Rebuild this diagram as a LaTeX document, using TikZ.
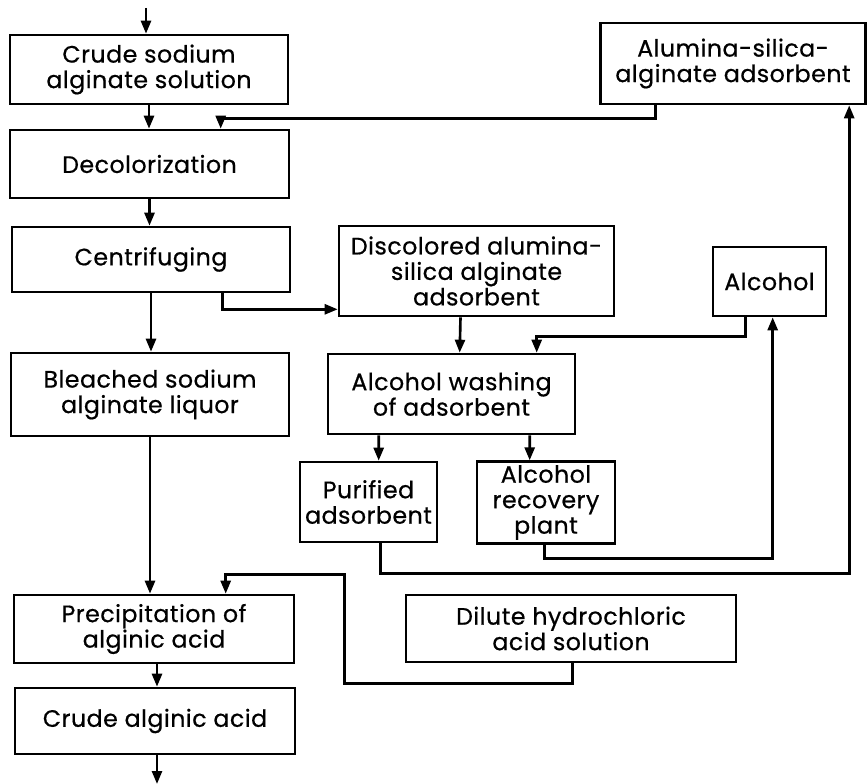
\documentclass[tikz,border=0pt]{standalone}
\usepackage{fontspec}
\setmainfont{Poppins}[FakeBold=0.6, LetterSpace=2]
\usetikzlibrary{arrows.meta,positioning,calc}

\begin{document}
\begin{tikzpicture}[x=0.02cm, y=-0.02cm,
  proc/.style={draw, line width=1.5pt, inner sep=2pt, align=center, font=\fontsize{13.5}{14.5}\selectfont},
  flow/.style={-{Triangle[length=2.6mm, width=2mm]}, line width=1.5pt},
  link/.style={line width=1.5pt}]
\useasboundingbox (0,0) rectangle (867,784);
% main line, left column
\node[proc, minimum width=5.56cm, minimum height=1.38cm] (crude) at (149,69.5) {Crude sodium\\alginate solution};
\node[proc, minimum width=5.58cm, minimum height=1.36cm] (decol) at (149.5,164) {Decolorization};
\node[proc, minimum width=5.56cm, minimum height=1.30cm] (centr) at (151,259.5) {Centrifuging};
\node[proc, minimum width=5.56cm, minimum height=1.66cm] (bleach) at (150,394.5) {Bleached sodium\\alginate liquor};
\node[proc, minimum width=5.60cm, minimum height=1.36cm] (precip) at (154,629) {Precipitation of\\alginic acid};
\node[proc, minimum width=5.60cm, minimum height=1.32cm] (acid) at (155,721) {Crude alginic acid};
% adsorbent loop
\node[proc, minimum width=5.30cm, minimum height=1.62cm] (alsil) at (733,63.5) {Alumina-silica-\\alginate adsorbent};
\node[proc, minimum width=5.50cm, minimum height=1.80cm] (discol) at (476.5,271) {Discolored alumina-\\silica alginate\\adsorbent};
\node[proc, minimum width=2.26cm, minimum height=1.38cm] (alc) at (769.5,281.5) {Alcohol};
\node[proc, minimum width=4.94cm, minimum height=1.60cm] (wash) at (451.5,394) {Alcohol washing\\of adsorbent};
\node[proc, minimum width=2.74cm, minimum height=1.60cm] (purif) at (368.5,502) {Purified\\adsorbent};
\node[proc, minimum width=2.76cm, minimum height=1.62cm] (recov) at (546,502.5) {Alcohol\\recovery\\plant};
\node[proc, minimum width=6.60cm, minimum height=1.34cm] (hcl) at (571,628.5) {Dilute hydrochloric\\acid solution};
% feed and product
\coordinate (feed) at (146,8);
\coordinate (prod) at (157,784);
\draw[flow] (feed) -- (feed |- crude.north);
\draw[flow] (crude.south) -- (crude.south |- decol.north);
\draw[flow] (decol.south) -- (decol.south |- centr.north);
\draw[flow] (centr.south) -- (centr.south |- bleach.north);
\draw[flow] (bleach.south) -- (bleach.south |- precip.north);
\draw[flow] ($(precip.south)+(3,0)$) -- ($(acid.north)+(2,0)$);
\draw[flow] ($(acid.south)+(2,0)$) -- (prod);
% side streams
\draw[flow] ($(alsil.south west)+(56,0)$) -- ++(0,13) -| ($(decol.north west)+(212,0)$);
\draw[flow] ($(centr.south west)+(212,0)$) |- ($(discol.south west)+(0,-8)$);
\draw[flow] ($(discol.south)+(-16,0)$) -- ($(wash.north west)+(133,0)$);
\draw[flow] ($(alc.south west)+(34,0)$) -- ++(0,19) -| ($(wash.north west)+(210,0)$);
\draw[flow] ($(wash.south west)+(52,0)$) -- ($(purif.north west)+(80,0)$);
\draw[flow] ($(wash.south west)+(203,0)$) -- ($(recov.north west)+(54,0)$);
\draw[flow] ($(recov.south west)+(69,0)$) -- ++(0,14) -| ($(alc.south west)+(61,0)$);
\draw[flow] ($(purif.south west)+(82,0)$) -- ++(0,30) -| ($(alsil.south west)+(250,0)$);
\draw[flow] ($(hcl.south west)+(168,0)$) -- ++(0,20) -| ++(-228,-109) -| ($(precip.north west)+(213,0)$);
\end{tikzpicture}
\end{document}
